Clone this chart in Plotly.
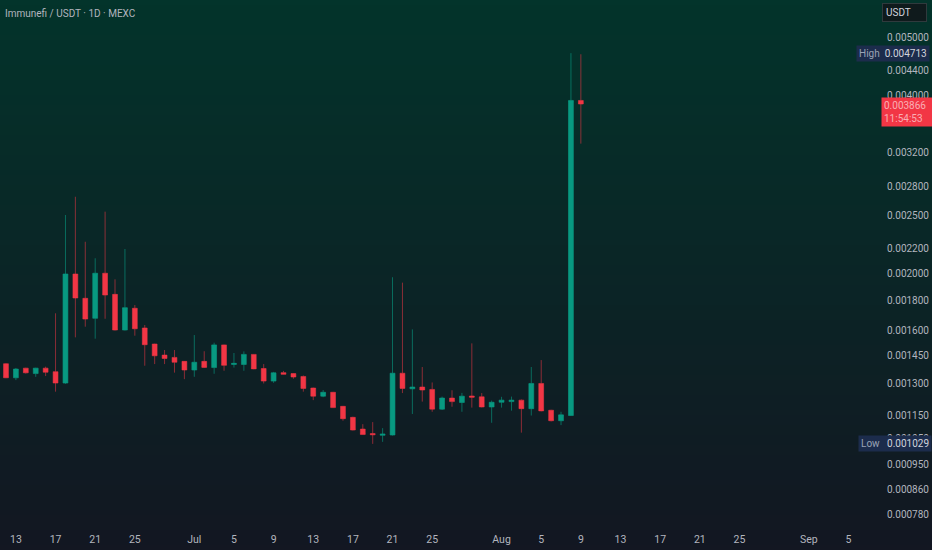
import numpy as np
import pandas as pd
import plotly.graph_objects as go

# ---------------- data ----------------
dates = pd.date_range("2025-06-12", "2025-08-09", freq="D")

open_ = [
    # Jun 12-30
    0.001406, 0.001331, 0.001382, 0.001353, 0.001382, 0.001363, 0.001304, 0.001994, 0.001814, 0.001678,
    0.002000, 0.001842, 0.001603, 0.001745, 0.001616, 0.001518, 0.001454, 0.001441, 0.001419,
    # Jul 1-31
    0.001372, 0.001419, 0.001385, 0.001513, 0.001402, 0.001402, 0.001458, 0.001380, 0.001314, 0.001358,
    0.001353, 0.001338, 0.001279, 0.001239, 0.001258, 0.001191, 0.001141, 0.001090, 0.001071, 0.001064,
    0.001065, 0.001355, 0.001275, 0.001284, 0.001272, 0.001178, 0.001230, 0.001209, 0.001240, 0.001236,
    0.001188,
    # Aug 1-9
    0.001210, 0.001213, 0.001220, 0.001180, 0.001302, 0.001173, 0.001126, 0.001149, 0.003920,
]
high = [
    0.001409, 0.001383, 0.001384, 0.001384, 0.001390, 0.001711, 0.002509, 0.002694, 0.002261, 0.002120,
    0.002542, 0.001953, 0.002198, 0.001767, 0.001635, 0.001520, 0.001483, 0.001483, 0.001421,
    0.001572, 0.001476, 0.001526, 0.001515, 0.001466, 0.001475, 0.001460, 0.001404, 0.001362, 0.001367,
    0.001355, 0.001343, 0.001281, 0.001269, 0.001260, 0.001193, 0.001144, 0.001111, 0.001120, 0.001094,
    0.001969, 0.001928, 0.001607, 0.001388, 0.001307, 0.001237, 0.001268, 0.001255, 0.001522, 0.001254,
    0.001218,
    0.001236, 0.001237, 0.001223, 0.001388, 0.001426, 0.001175, 0.001166, 0.004713, 0.004693,
]
low = [
    0.001329, 0.001319, 0.001353, 0.001336, 0.001340, 0.001261, 0.001300, 0.001558, 0.001624, 0.001550,
    0.001675, 0.001600, 0.001600, 0.001568, 0.001395, 0.001404, 0.001404, 0.001358, 0.001324,
    0.001336, 0.001384, 0.001352, 0.001368, 0.001385, 0.001368, 0.001376, 0.001302, 0.001305, 0.001348,
    0.001326, 0.001261, 0.001220, 0.001234, 0.001183, 0.001126, 0.001084, 0.001066, 0.001029, 0.001037,
    0.001063, 0.001254, 0.001156, 0.001213, 0.001166, 0.001174, 0.001189, 0.001166, 0.001185, 0.001186,
    0.001117,
    0.001185, 0.001171, 0.001075, 0.001149, 0.001168, 0.001123, 0.001107, 0.001147, 0.003313,
]
close = [
    0.001331, 0.001377, 0.001357, 0.001382, 0.001360, 0.001304, 0.001994, 0.001816, 0.001673, 0.002000,
    0.001837, 0.001603, 0.001749, 0.001611, 0.001514, 0.001450, 0.001435, 0.001414, 0.001372,
    0.001414, 0.001386, 0.001513, 0.001397, 0.001408, 0.001458, 0.001378, 0.001314, 0.001357, 0.001349,
    0.001335, 0.001277, 0.001239, 0.001258, 0.001185, 0.001135, 0.001086, 0.001067, 0.001066, 0.001069,
    0.001355, 0.001277, 0.001284, 0.001269, 0.001178, 0.001230, 0.001213, 0.001239, 0.001234, 0.001188,
    0.001210,
    0.001220, 0.001220, 0.001180, 0.001302, 0.001170, 0.001126, 0.001152, 0.003920, 0.003866,
]

price_ticks = [0.005, 0.0044, 0.004, 0.0036, 0.0032, 0.0028, 0.0025, 0.0022, 0.002, 0.0018,
               0.0016, 0.00145, 0.0013, 0.00115, 0.00105, 0.00095, 0.00086, 0.00078]
price_tick_text = [f"{v:.6f}" for v in price_ticks]

date_ticks = ["2025-06-13", "2025-06-17", "2025-06-21", "2025-06-25", "2025-07-01", "2025-07-05",
              "2025-07-09", "2025-07-13", "2025-07-17", "2025-07-21", "2025-07-25", "2025-08-01",
              "2025-08-05", "2025-08-09", "2025-08-13", "2025-08-17", "2025-08-21", "2025-08-25",
              "2025-09-01", "2025-09-05"]
date_tick_text = ["13", "17", "21", "25", "Jul", "5", "9", "13", "17", "21", "25", "Aug",
                  "5", "9", "13", "17", "21", "25", "Sep", "5"]

title_text = "Immunefi / USDT · 1D · MEXC"
last_time = "11:54:53"

# ---------------- style ----------------
UP = "#089981"
DOWN = "#f23645"
TXT = "#b2b5be"
FONT = "Roboto"
W, H = 932, 550
ML, MR, MT, MB = 0, 60, 0, 28

fig = go.Figure()
fig.add_trace(go.Candlestick(
    x=dates, open=open_, high=high, low=low, close=close,
    increasing=dict(fillcolor=UP, line=dict(color="rgba(8,153,129,0.62)", width=1)),
    decreasing=dict(fillcolor=DOWN, line=dict(color="rgba(242,54,69,0.55)", width=1)),
    whiskerwidth=0, showlegend=False, hoverinfo="skip",
))

# background gradient (styling only)
top_rgb = np.array([3, 52, 43])
bot_rgb = np.array([19, 23, 34])
plot_h = H - MT - MB
y_top = 1 + MT / plot_h
y_bot = -MB / plot_h
n = 110
shapes = []
for i in range(n):
    t = i / (n - 1)
    c = top_rgb + (bot_rgb - top_rgb) * t
    y1 = y_top - (y_top - y_bot) * i / n
    y0 = y_top - (y_top - y_bot) * (i + 1) / n
    shapes.append(dict(type="rect", xref="paper", yref="paper", x0=-0.01, x1=W / (W - ML - MR) + 0.01,
                       y0=y0 - 0.002, y1=y1, fillcolor=f"rgb({int(c[0])},{int(c[1])},{int(c[2])})",
                       line=dict(width=0), layer="below"))

last = close[-1]
shapes.append(dict(type="line", xref="paper", yref="y", x0=0, x1=1,
                   y0=np.log10(last), y1=np.log10(last),
                   line=dict(color=DOWN, width=1, dash="dot"), layer="above"))

hi = max(high)
lo = min(low)
annotations = [
    dict(text=title_text, xref="paper", yref="paper", x=0, y=1, xanchor="left", yanchor="top",
         xshift=3, yshift=-6, showarrow=False, font=dict(family=FONT, size=10, color=TXT)),
    dict(text="USDT&nbsp;&nbsp;&nbsp;&nbsp;&nbsp;", xref="paper", yref="paper", x=1, y=1, xanchor="left",
         yanchor="top", xshift=10, yshift=-3, showarrow=False, bgcolor="#0f1a1c", bordercolor="#2f3a3d",
         borderwidth=1, borderpad=3, font=dict(family=FONT, size=10, color="#d1d4dc")),
    dict(text=f"{last:.6f}<br>{last_time}", xref="paper", yref="y", x=1, y=np.log10(last),
         xanchor="left", yanchor="top", xshift=9, yshift=7, showarrow=False, align="left",
         bgcolor=DOWN, borderpad=2, width=48, font=dict(family=FONT, size=10, color="rgba(255,255,255,0.6)")),
    dict(text=f"High&nbsp;&nbsp;<span style='color:#d1d4dc'>{hi:.6f}</span>", xref="paper", yref="y",
         x=1, y=np.log10(hi), xanchor="left", yanchor="middle", xshift=-16, showarrow=False,
         bgcolor="#1c2c4c", borderpad=2, font=dict(family=FONT, size=10, color="#9aa3b5")),
    dict(text=f"Low&nbsp;&nbsp;&nbsp;<span style='color:#d1d4dc'>{lo:.6f}</span>", xref="paper", yref="y",
         x=1, y=np.log10(lo), xanchor="left", yanchor="middle", xshift=-14, showarrow=False,
         bgcolor="#1c2c4c", borderpad=2, font=dict(family=FONT, size=10, color="#9aa3b5")),
]

y_lo, y_hi = 0.000759, 0.005797
fig.update_layout(
    width=W, height=H, margin=dict(l=ML, r=MR, t=MT, b=MB),
    paper_bgcolor="rgb(19,23,34)", plot_bgcolor="rgba(0,0,0,0)",
    shapes=shapes, annotations=annotations,
    font=dict(family=FONT, size=10, color=TXT),
    xaxis=dict(type="date", range=["2025-06-11 09:30", "2025-09-07 09:00"],
               tickvals=date_ticks, ticktext=date_tick_text, showgrid=False, zeroline=False,
               showline=False, ticks="outside", ticklen=7, tickcolor="rgba(0,0,0,0)",
               tickfont=dict(family=FONT, size=10.5, color=TXT), rangeslider=dict(visible=False)),
    yaxis=dict(type="log", side="right", range=[np.log10(y_lo), np.log10(y_hi)],
               tickvals=price_ticks, ticktext=price_tick_text, showgrid=False, zeroline=False,
               showline=False, ticks="outside", ticklen=12, tickcolor="rgba(0,0,0,0)",
               tickfont=dict(family=FONT, size=10, color=TXT)),
)

fig.write_html("out.html", config={"displayModeBar": False},
               post_script="document.body.style.margin='0';document.body.style.overflow='hidden';"
                           "document.body.style.background='rgb(19,23,34)';")
